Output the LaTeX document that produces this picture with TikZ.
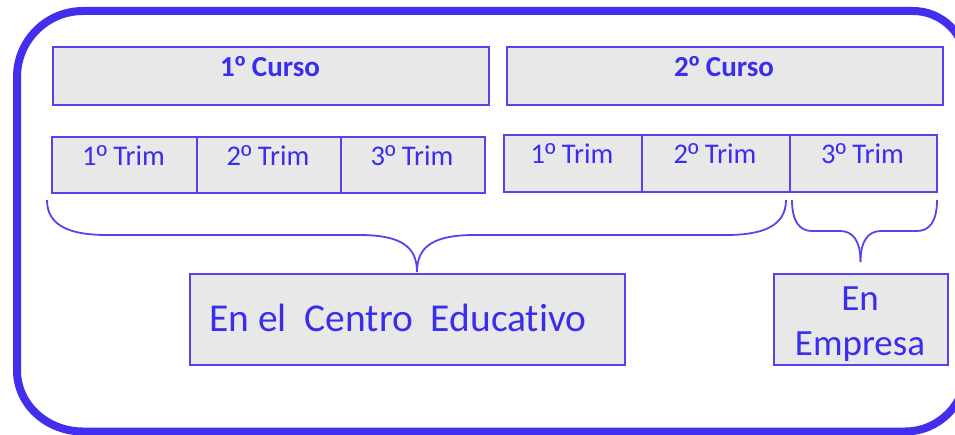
\documentclass[tikz,border=0pt]{standalone}
\usepackage{fontspec}
\setmainfont{Carlito}[Ligatures=NoCommon]
\newfontfamily\ordfont{Liberation Sans}
\newcommand{\myord}{{\ordfont º}}
\definecolor{frameblue}{RGB}{68,46,238}
\definecolor{textblue}{RGB}{58,46,238}
\definecolor{boxblue}{RGB}{84,68,238}
\definecolor{boxfill}{RGB}{232,232,232}
\tikzset{
  box/.style={draw=boxblue, line width=1.8pt, fill=boxfill, inner sep=0pt, anchor=south west},
  trimtxt/.style={text=textblue, anchor=base, inner sep=0pt, font=\fontsize{28.5}{32}\selectfont},
  cursotxt/.style={text=textblue, anchor=base, inner sep=0pt, font=\fontsize{29}{33}\selectfont\bfseries},
  bigtxt/.style={text=textblue, anchor=base, inner sep=0pt, font=\fontsize{37}{42}\selectfont},
  bracestyle/.style={draw=boxblue, line width=1.8pt},
  frame/.style={draw=frameblue, line width=8pt}
}
\begin{document}
\begin{tikzpicture}[x=1pt,y=1pt]
\useasboundingbox (0,0) rectangle (955,434);
\clip (0,0) rectangle (955,434);
% outer frame
\draw[frame] (17,357) arc[start angle=180,end angle=90,radius=66]
  -- (913,423) arc[start angle=90,end angle=0,radius=53]
  -- (966,63.5) arc[start angle=0,end angle=-90,radius=61]
  -- (83,2.5) arc[start angle=270,end angle=180,x radius=66,y radius=61]
  -- cycle;
% course boxes
\node[box, minimum width=436pt, minimum height=58pt] (c1) at (52,328) {};
\node[box, minimum width=436pt, minimum height=58pt] (c2) at (506,328) {};
\node[cursotxt] (c1t) at (270,357) {1\myord\ Curso};
\node[cursotxt] (c2t) at (724,357) {2\myord\ Curso};
% trimester boxes, first year
\node[box, minimum width=145pt, minimum height=56pt] (t11) at (51,240) {};
\node[box, minimum width=144pt, minimum height=56pt] (t12) at (196,240) {};
\node[box, minimum width=144pt, minimum height=56pt] (t13) at (340,240) {};
\node[trimtxt] at (123.5,268) {1\myord\ Trim};
\node[trimtxt] at (268,268) {2\myord\ Trim};
\node[trimtxt] at (412,268) {3\myord\ Trim};
% trimester boxes, second year
\node[box, minimum width=138pt, minimum height=57pt] (t21) at (503,241) {};
\node[box, minimum width=148pt, minimum height=57pt] (t22) at (641,241) {};
\node[box, minimum width=147pt, minimum height=57pt] (t23) at (789,241) {};
\node[trimtxt] at (572,270) {1\myord\ Trim};
\node[trimtxt] at (715,270) {2\myord\ Trim};
\node[trimtxt] at (862.5,270) {3\myord\ Trim};
% bottom boxes
\node[box, minimum width=435pt, minimum height=91pt] (centro) at (189,68) {};
\node[box, minimum width=174pt, minimum height=91pt] (empresa) at (773,68) {};
\node[bigtxt, anchor=base west, font=\fontsize{39.5}{44}\selectfont] at (209,103) {En el\ \ Centro\ \ Educativo};
\node[bigtxt] at (860,124) {En};
\node[bigtxt] at (860,79) {Empresa};
% braces
\coordinate (b1l) at (47,234);
\coordinate (b1r) at (786,234);
\coordinate (b1t) at (417,162);
\coordinate (b2l) at (792,234);
\coordinate (b2r) at (937,234);
\coordinate (b2t) at (860.5,172);
\draw[bracestyle] (b1l) .. controls (47,207) and (72,199) .. (107,199)
  -- (359,199) .. controls (400,199) and (417,188) .. (b1t);
\draw[bracestyle] (b1r) .. controls (786,207) and (761,199) .. (726,199)
  -- (475,199) .. controls (434,199) and (417,188) .. (b1t);
\draw[bracestyle] (b2l) .. controls (792,212) and (800,203) .. (812,203)
  -- (840,203) .. controls (853,203) and (860.5,193) .. (b2t);
\draw[bracestyle] (b2r) .. controls (937,212) and (929,203) .. (917,203)
  -- (881,203) .. controls (868,203) and (860.5,193) .. (b2t);
\end{tikzpicture}
\end{document}
